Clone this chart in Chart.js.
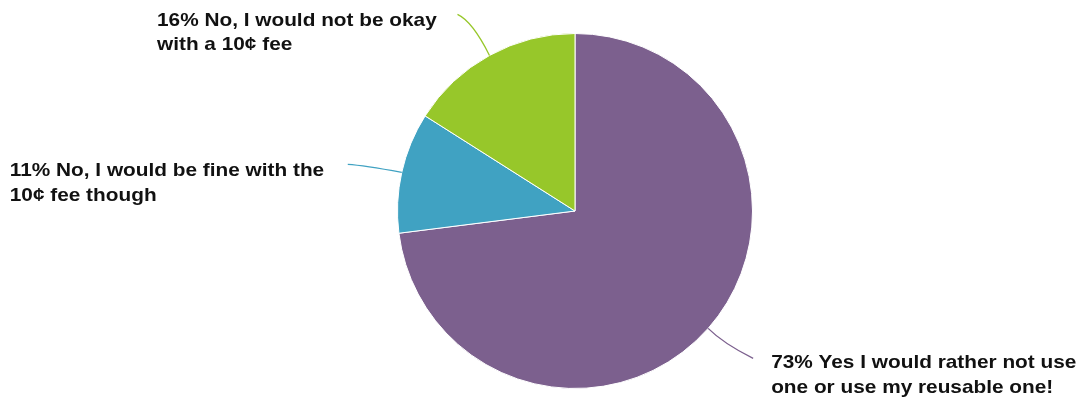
<!DOCTYPE html>
<html lang="en">
<head>
    <meta charset="UTF-8">
    <title>10¢ fee survey</title>
    <style>
        body {
            margin: 0;
            background: #ffffff;
        }

        #chartContainer {
            width: 1085px;
            height: 403px;
        }
    </style>
</head>
<body>

    <div id="chartContainer">
        <canvas id="feeChart"></canvas>
    </div>

    <script src="https://cdn.jsdelivr.net/npm/chart.js"></script>

    <script>
        // chart data
        const answers = [
            'Yes I would rather not use one or use my reusable one!',
            'No, I would be fine with the 10¢ fee though',
            'No, I would not be okay with a 10¢ fee'
        ];
        const percents = [73, 11, 16];
        const sliceColors = ['#7c608e', '#40a2c2', '#97c72a'];
        // wrapped label text (percent is put in front of the first line)
        const labelLines = [
            ['Yes I would rather not use', 'one or use my reusable one!'],
            ['No, I would be fine with the', '10¢ fee though'],
            ['No, I would not be okay', 'with a 10¢ fee']
        ];

        // leader line: end offset + curve control offset from the slice edge, text offset from line end
        const leaderLayout = [
            { end: [45, 30], ctrl: [15, 15], text: [18, 10] },
            { end: [-54, -8], ctrl: [-38, -7], text: [-338, 12] },
            { end: [-32, -41], ctrl: [-17, -34], text: [-300.5, 11.5] }
        ];

        const calloutPlugin = {
            id: 'callouts',
            afterDatasetsDraw(chart) {
                const ctx = chart.ctx;
                const arcs = chart.getDatasetMeta(0).data;
                ctx.save();
                arcs.forEach((arc, i) => {
                    const p = arc.getProps(['x', 'y', 'startAngle', 'endAngle', 'outerRadius'], true);
                    const mid = (p.startAngle + p.endAngle) / 2;
                    const sx = p.x + Math.cos(mid) * p.outerRadius;
                    const sy = p.y + Math.sin(mid) * p.outerRadius;
                    const lay = leaderLayout[i];
                    const ex = sx + lay.end[0];
                    const ey = sy + lay.end[1];

                    ctx.strokeStyle = sliceColors[i];
                    ctx.lineWidth = 1.3;
                    ctx.beginPath();
                    ctx.moveTo(sx, sy);
                    ctx.quadraticCurveTo(sx + lay.ctrl[0], sy + lay.ctrl[1], ex, ey);
                    ctx.stroke();

                    ctx.fillStyle = '#111111';
                    ctx.font = 'bold 19px "Liberation Sans", Arial, sans-serif';
                    ctx.textAlign = 'left';
                    ctx.textBaseline = 'alphabetic';
                    labelLines[i].forEach((line, j) => {
                        const txt = j === 0 ? `${percents[i]}% ${line}` : line;
                        // the original labels are a bit wider than Arial bold
                        ctx.save();
                        ctx.translate(ex + lay.text[0], ey + lay.text[1] + j * 24.5);
                        ctx.scale(1.095, 1);
                        ctx.fillText(txt, 0, 0);
                        ctx.restore();
                    });
                });
                ctx.restore();
            }
        };

        const ctx = document.getElementById('feeChart').getContext('2d');
        const feeChart = new Chart(ctx, {
            type: 'pie',
            data: {
                labels: answers,
                datasets: [{
                    data: percents,
                    backgroundColor: sliceColors,
                    borderColor: '#ffffff',
                    borderWidth: 1
                }]
            },
            options: {
                responsive: true,
                maintainAspectRatio: false,
                animation: false,
                layout: {
                    padding: { top: 33, bottom: 14, left: 65, right: 0 }
                },
                plugins: {
                    legend: { display: false },
                    tooltip: { enabled: false }
                }
            },
            plugins: [calloutPlugin]
        });
    </script>
</body>
</html>
